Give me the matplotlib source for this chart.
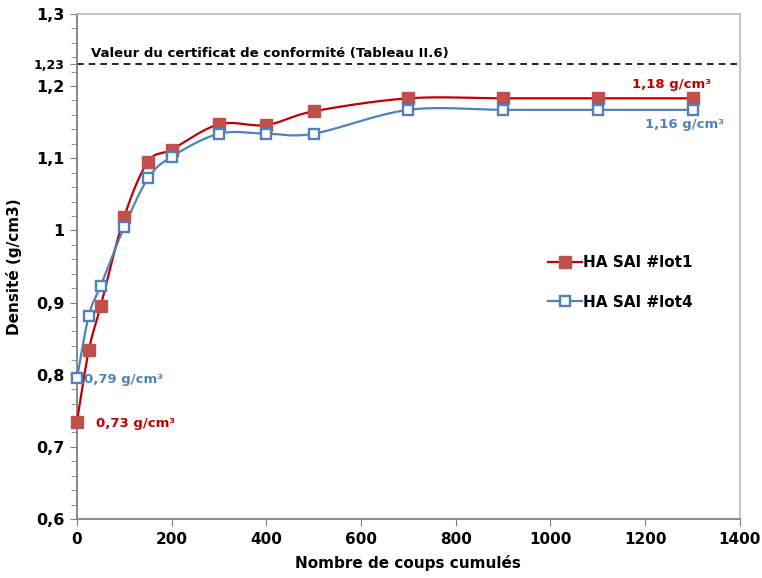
import numpy as np
import matplotlib.pyplot as plt
from matplotlib.ticker import MultipleLocator

# Données
coups = [0, 25, 50, 100, 150, 200, 300, 400, 500, 700, 900, 1100, 1300]
lot1 = [0.735, 0.834, 0.895, 1.019, 1.095, 1.112, 1.147, 1.146, 1.165, 1.183, 1.183, 1.183, 1.183]
lot4 = [0.795, 0.882, 0.923, 1.005, 1.072, 1.102, 1.134, 1.134, 1.134, 1.167, 1.167, 1.167, 1.167]
y_ticks = [0.6, 0.7, 0.8, 0.9, 1.0, 1.1, 1.2, 1.3]
y_labels = ['0,6', '0,7', '0,8', '0,9', '1', '1,1', '1,2', '1,3']
x_ticks = [0, 200, 400, 600, 800, 1000, 1200, 1400]
certificat = 1.23

rouge, rouge_m = '#C00000', '#C0504D'
bleu = '#4F81BD'
plt.rcParams['font.family'] = ['DejaVu Sans']
plt.rcParams['font.weight'] = 'bold'

fig = plt.figure(figsize=(7.62, 5.78), dpi=100)
ax = fig.add_axes([0.101, 0.102, 0.870, 0.874])
ax.set_xlim(0, 1400)
ax.set_ylim(0.6, 1.3)


def lisse(x, y, n=30):
    # courbe lissée type Excel (Bézier / Catmull-Rom dans l'espace écran)
    p = ax.transData.transform(np.column_stack([x, y]))
    p = np.vstack([p[0], p, p[-1]])
    out = []
    for i in range(1, len(p) - 2):
        p0, p1, p2, p3 = p[i - 1], p[i], p[i + 1], p[i + 2]
        c1 = p1 + (p2 - p0) / 6
        c2 = p2 - (p3 - p1) / 6
        t = np.linspace(0, 1, n)[:, None]
        b = (1 - t) ** 3 * p1 + 3 * (1 - t) ** 2 * t * c1 + 3 * (1 - t) * t ** 2 * c2 + t ** 3 * p2
        out.append(b)
    out = np.vstack(out)
    d = ax.transData.inverted().transform(out)
    return d[:, 0], d[:, 1]


sx, sy = lisse(coups, lot1)
ax.plot(sx, sy, color=rouge, lw=1.6, zorder=3)
ax.plot(coups, lot1, ls='none', marker='s', ms=8, color=rouge_m, zorder=4, clip_on=False)
sx, sy = lisse(coups, lot4)
ax.plot(sx, sy, color=bleu, lw=1.6, zorder=3)
ax.plot(coups, lot4, ls='none', marker='s', ms=7, mfc='white', mec=bleu, mew=1.7, zorder=5, clip_on=False)

# légende
ax.plot([], [], color=rouge, lw=1.6, marker='s', ms=8, mfc=rouge_m, mec=rouge_m, label='HA SAI #lot1')
ax.plot([], [], color=bleu, lw=1.6, marker='s', ms=7, mfc='white', mec=bleu, mew=1.7, label='HA SAI #lot4')
ax.legend(loc='center left', bbox_to_anchor=(0.69, 0.468), frameon=False,
          handlelength=2.2, handletextpad=0.1, labelspacing=1.6,
          prop={'weight': 'bold', 'size': 11})

ax.axhline(certificat, color='black', ls=(0, (4, 3)), lw=1.2, zorder=2)
ax.text(30, certificat + 0.006, 'Valeur du certificat de conformité (Tableau II.6)',
        fontsize=9.5, fontweight='bold', va='bottom', ha='left')

ax.text(40, 0.733, '0,73 g/cm³', color=rouge, fontsize=9.5, fontweight='bold', va='center')
ax.text(15, 0.794, '0,79 g/cm³', color=bleu, fontsize=9.5, fontweight='bold', va='center')
ax.text(1256, 1.193, '1,18 g/cm³', color=rouge, fontsize=9.5, fontweight='bold', ha='center', va='bottom')
ax.text(1282, 1.156, '1,16 g/cm³', color=bleu, fontsize=9.5, fontweight='bold', ha='center', va='top')

ax.set_xticks(x_ticks)
ax.set_xticklabels([str(v) for v in x_ticks], fontsize=11, fontweight='bold')
ax.set_yticks(y_ticks + [certificat])
ax.set_yticklabels(y_labels + ['1,23'], fontsize=11.5, fontweight='bold')
ax.get_yticklabels()[-1].set_fontsize(9)
ax.yaxis.set_minor_locator(MultipleLocator(0.02))
ax.tick_params(axis='both', which='major', length=5, color='#808080', pad=4)
ax.tick_params(axis='y', which='minor', length=4, color='#808080')

for s in ['left', 'bottom']:
    ax.spines[s].set_color('#808080')
    ax.spines[s].set_linewidth(1.3)
for s in ['top', 'right']:
    ax.spines[s].set_color('#BFBFBF')
    ax.spines[s].set_linewidth(1.3)

ax.set_xlabel('Nombre de coups cumulés', fontsize=11, fontweight='bold', labelpad=6)
ax.set_ylabel('Densité (g/cm3)', fontsize=11, fontweight='bold', labelpad=8)

fig.savefig('out.png', dpi=100)
